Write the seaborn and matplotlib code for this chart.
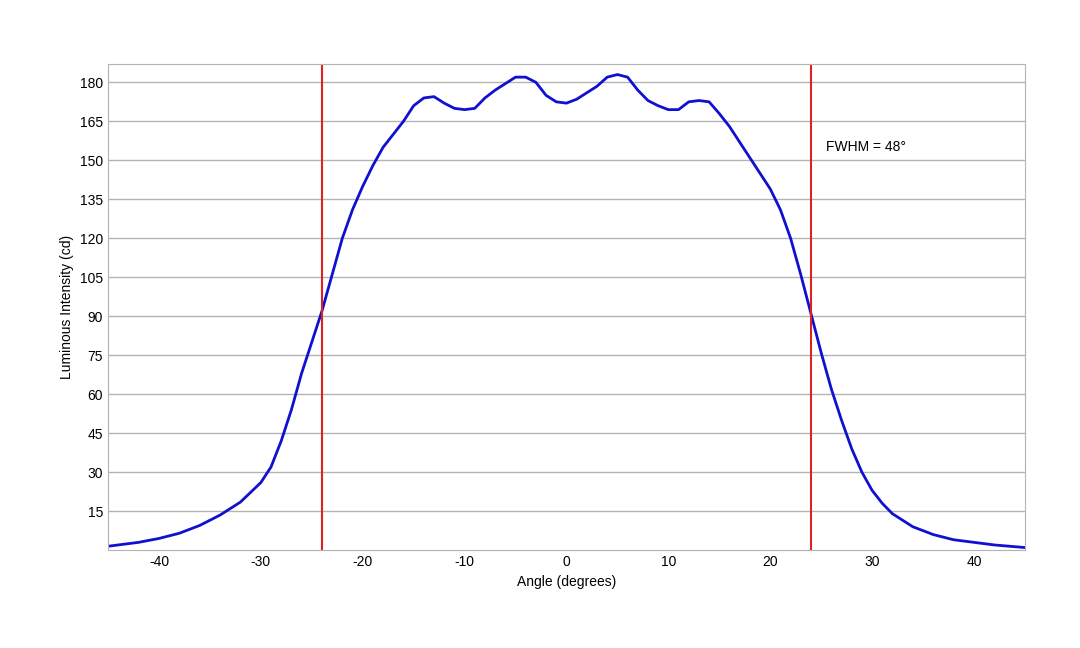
import matplotlib
matplotlib.use("Agg")
import matplotlib.pyplot as plt
import seaborn as sns
import pandas as pd

angle = [-45,-42,-40,-38,-36,-34,-32,-30,-29,-28,-27,-26,-25,-24,-23,-22,-21,-20,-19,-18,-17,-16,-15,-14,-13,-12,-11,-10,-9,-8,-7,-6,-5,-4,-3,-2,-1,0,1,2,3,4,5,6,7,8,9,10,11,12,13,14,15,16,17,18,19,20,21,22,23,24,25,26,27,28,29,30,31,32,34,36,38,40,42,45]
intensity = [1.5,3,4.5,6.5,9.5,13.5,18.5,26,32,42,54,68,80,92,106,120,131,140,148,155,160,165,171,174,174.5,172,170,169.5,170,174,177,179.5,182,182,180,175,172.5,172,173.5,176,178.5,182,183,182,177,173,171,169.5,169.5,172.5,173,172.5,168,163,157,151,145,139,131,120,106,91,76,62,50,39,30,23,18,14,9,6,4,3,2,1]
fwhm_lines = [-24, 24]
yticks = [15,30,45,60,75,90,105,120,135,150,165,180]
xticks = [-40,-30,-20,-10,0,10,20,30,40]

df = pd.DataFrame({"angle": angle, "intensity": intensity})
sns.set_style("white")
plt.rcParams["font.family"] = ["Liberation Sans", "DejaVu Sans"]
plt.rcParams["axes.unicode_minus"] = False
fig = plt.figure(figsize=(10.8, 6.48), dpi=100)
ax = fig.add_axes([0.1, 0.151, 0.849, 0.75])
for y in yticks:
    ax.axhline(y, color="#b3b3b3", lw=1, zorder=0)
sns.lineplot(data=df, x="angle", y="intensity", ax=ax, color="#1010d0", lw=2)
for x in fwhm_lines:
    ax.axvline(x, color="#dd2222", lw=1.5)
ax.set_xlim(-45, 45)
ax.set_ylim(0, 187)
ax.set_xticks(xticks)
ax.set_yticks(yticks)
ax.tick_params(labelsize=10, length=0, labelcolor="black")
for s in ax.spines.values():
    s.set_color("#b3b3b3")
ax.set_xlabel("Angle (degrees)", fontsize=10, color="black")
ax.set_ylabel("Luminous Intensity (cd)", fontsize=10, color="black")
ax.text(25.5, 155, "FWHM = 48°", fontsize=10, va="center", color="black")
fig.savefig("out.png", dpi=100)
